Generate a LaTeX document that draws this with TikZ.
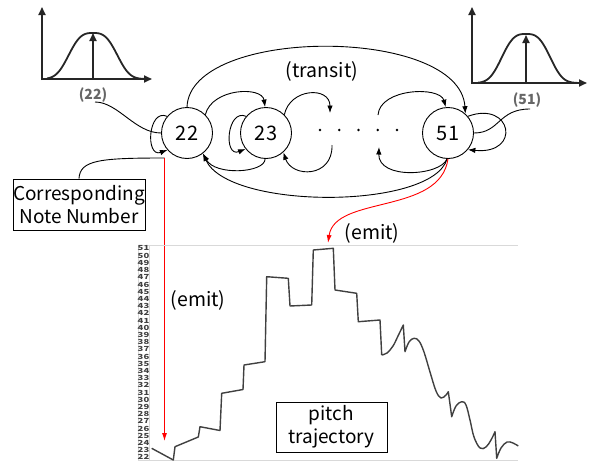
\documentclass[tikz,border=0pt]{standalone}
\usepackage{fontspec}
\usepackage{graphicx}
\setmainfont{Noto Sans CJK JP}
\usetikzlibrary{arrows.meta}
\begin{document}
\begin{tikzpicture}[x=1pt,y=-1pt,
  txt/.style={font=\fontsize{19.5}{23}\selectfont, inner sep=0pt},
  state/.style={circle, draw, line width=0.9pt, minimum size=51pt, inner sep=0pt, font=\fontsize{20}{20}\selectfont},
  edge/.style={line width=0.9pt, -{Latex[length=7.5pt,width=5.5pt]}},
  conn/.style={line width=0.9pt},
  emitline/.style={red, line width=0.9pt, -{Latex[length=8pt,width=5pt]}},
  boxed/.style={draw, line width=0.9pt, align=center, inner sep=0pt, font=\fontsize{19}{23}\selectfont},
  axis/.style={line width=1.8pt, black!85, -{Triangle[length=8pt,width=7pt]}},
  bell/.style={line width=1.8pt, black!85},
  glabel/.style={font=\fontsize{14}{14}\selectfont\bfseries, text=black!60, inner sep=0pt},
  frameline/.style={black!15, line width=0.8pt},
  tick/.style={font=\fontsize{7}{7}\selectfont\bfseries, text=black!75, inner sep=0pt},
  traj/.style={black!75, line width=1.4pt, line join=round}
]
\useasboundingbox (0,0) rectangle (591,463);

% insets
\draw[axis] (42,80) -- (42,7);
\draw[axis] (41,79) -- (152,79);
\draw[bell] plot[domain=-46:54,samples=90] ({93+\x},{79-46*exp(-(abs(\x)/28)^3)});
\draw[axis] (93,79) -- (93,33);
\node[glabel] (l22) at (93,95) {(22)};

\draw[axis] (472,84) -- (472,7);
\draw[axis] (471,83) -- (587,83);
\draw[bell] plot[domain=-48:52,samples=90] ({526+\x},{83-49*exp(-(abs(\x)/28)^3)});
\draw[axis] (526,83) -- (526,35);
\node[glabel] (l51) at (527,100) {(51)};

% states
\node[state] (n22) at (187,133) {22};
\node[state] (n23) at (266,133) {23};
\node[state] (n51) at (448,133) {51};
\foreach \i in {0,...,4} \fill (320+\i*19.25,130) circle (1.4pt);

\coordinate (d1) at (330,113);
\coordinate (d2) at (332,145);
\coordinate (d3) at (378,115);
\coordinate (d4) at (379,147);
\coordinate (c22) at (95,102);
\coordinate (c51) at (530,109);
\coordinate (cr) at (164.5,158);
\coordinate (ce1) at (164.5,441);
\coordinate (ce2) at (328,243);

\draw[edge] (n22.140) .. controls (148,108) and (145,158) .. (n22.221);
\draw[edge] (n22.45) .. controls (212,88) and (262,86) .. (n23.92);
\draw[edge] (n23.140) .. controls (227,108) and (223,158) .. (n23.218);
\draw[edge] (n23.45) .. controls (290,88) and (330,86) .. (d1);
\draw[edge] (d2) .. controls (333,178) and (292,178) .. (n23.-48);
\draw[edge] (n23.-92) .. controls (265,173) and (215,176) .. (n22.-52);
\draw[edge] (d3) .. controls (380,88) and (440,86) .. (n51.95);
\draw[edge] (n51.-92) .. controls (440,176) and (378,180) .. (d4);
\draw[edge] (n51.-92) .. controls (432,210) and (228,210) .. (n22.-52);
\draw[edge] (n22.90) .. controls (190,26) and (460,26) .. (n51.48);
\draw[edge] (n51.40) .. controls (512,100) and (522,155) .. (n51.-40);
\node[txt] (tr) at (322,71) {(transit)};

\draw[conn] (c22) .. controls (118,102) and (135,133) .. (n22.west);
\draw[conn] (n51.east) .. controls (500,133) and (498,109) .. (c51);

\node[boxed, minimum width=132pt, minimum height=51pt] (cnn) at (79,204.5) {Corresponding\\Note Number};
\draw[conn] (cnn.north) .. controls (80,160) and (100,158) .. (cr);
\draw[emitline] (cr) -- (ce1);
\draw[emitline] (n51.-90) .. controls (440,215) and (335,195) .. (ce2);
\node[txt] (e1) at (198,300) {(emit)};
\node[txt] (e2) at (372,233) {(emit)};

% chart
\draw[frameline] (138,245) -- (518,245);
\draw[frameline] (138,460) -- (518,460);
\draw[frameline] (138,245) -- (138,460);
\draw[frameline] (149,245) -- (149,460);
\foreach \i in {0,...,29} {
  \pgfmathtruncatemacro\v{51-\i}
  \node[tick] (t\i) at (143.5,248.5+\i*7.2) {\scalebox{1.35}[1]{\v}};
}
\draw[traj] (151.7,448.3) -- (173.3,460) -- (175,446.7) -- (198.3,437) -- (200,426.7) -- (220,430.5) -- (221.7,393.3) -- (243,389.5) -- (244,365) -- (265,361.7) -- (266.7,276.7) -- (288.3,278.3) -- (290,306) -- (311.7,305) -- (313.3,250) -- (333.3,248.3) -- (335,290) -- (356.7,293.3) -- (358.3,321.7) -- (380,320) -- (381.7,355)
  plot[smooth, tension=0.6] coordinates {(381.7,355) (387,353) (393,346) (398,336) (403.3,325)}
  -- plot[smooth, tension=0.6] coordinates {(405,351.7) (409,342) (414,338.3) (419,341) (424,352) (430,372) (436,391) (441,398) (446,395) (448.3,391.7)}
  -- plot[smooth, tension=0.6] coordinates {(451.7,416.7) (456,406) (461.7,401.7) (466,405) (470,420) (474,437) (480,448) (486,447) (491,440) (495,431.7)}
  -- plot[smooth, tension=0.6] coordinates {(496.7,458.3) (501,448) (507,442) (513,443) (518.3,446)};

\node[boxed, minimum width=111pt, minimum height=50pt] (pt) at (331.5,427) {pitch\\trajectory};
\end{tikzpicture}
\end{document}
